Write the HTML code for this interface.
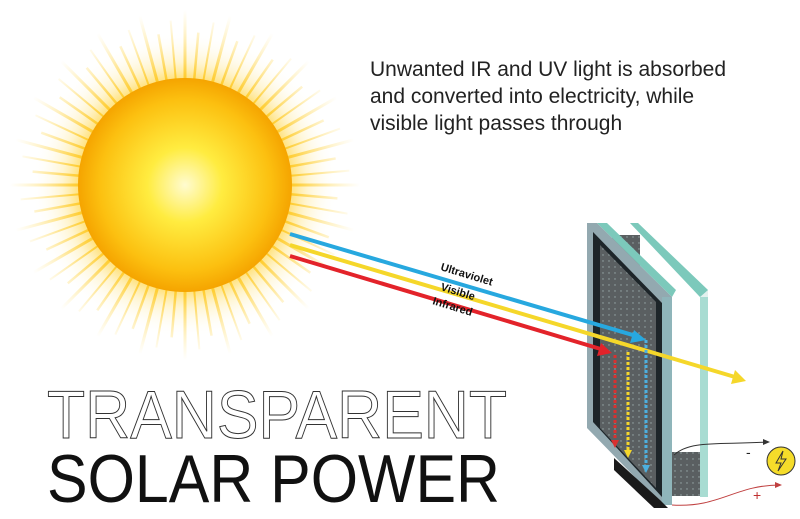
<!DOCTYPE html>
<html><head><meta charset="utf-8"><style>
html,body{margin:0;padding:0;background:#fff;width:800px;height:519px;overflow:hidden}
</style></head><body>
<svg width="800" height="519" viewBox="0 0 800 519" xmlns="http://www.w3.org/2000/svg">
<defs>
<radialGradient id="sun" cx="0.5" cy="0.5" r="0.5">
<stop offset="0" stop-color="#fffbd0"/><stop offset="0.35" stop-color="#ffec40"/><stop offset="0.8" stop-color="#fcc010"/><stop offset="1" stop-color="#f5a400"/>
</radialGradient>
<radialGradient id="glow" cx="0.5" cy="0.5" r="0.5">
<stop offset="0.6" stop-color="#ffd23a" stop-opacity="0.8"/><stop offset="0.72" stop-color="#ffe27a" stop-opacity="0.35"/><stop offset="0.9" stop-color="#fff" stop-opacity="0"/>
</radialGradient>
<linearGradient id="rg" gradientUnits="userSpaceOnUse" x1="290" y1="0" x2="360" y2="0">
<stop offset="0" stop-color="#ffc820" stop-opacity="0.9"/><stop offset="1" stop-color="#ffe070" stop-opacity="0"/>
</linearGradient>
<g id="ray">
<line x1="288" y1="185" x2="362" y2="185" stroke="url(#rg)" stroke-width="3"/>
<line x1="288" y1="185" x2="338" y2="185" stroke="url(#rg)" stroke-width="2.5" transform="rotate(5 185 185)"/>
<line x1="288" y1="185" x2="350" y2="185" stroke="url(#rg)" stroke-width="2" transform="rotate(10 185 185)"/>
</g>
<pattern id="dots" width="6" height="6" patternUnits="userSpaceOnUse"><rect width="6" height="6" fill="#5a5f61"/><circle cx="3" cy="3" r="0.7" fill="#9aa"/></pattern>
</defs>
<circle cx="185" cy="185" r="170" fill="url(#glow)"/>
<g>
<use href="#ray"/><use href="#ray" transform="rotate(15 185 185)"/><use href="#ray" transform="rotate(30 185 185)"/><use href="#ray" transform="rotate(45 185 185)"/>
<use href="#ray" transform="rotate(60 185 185)"/><use href="#ray" transform="rotate(75 185 185)"/><use href="#ray" transform="rotate(90 185 185)"/><use href="#ray" transform="rotate(105 185 185)"/>
<use href="#ray" transform="rotate(120 185 185)"/><use href="#ray" transform="rotate(135 185 185)"/><use href="#ray" transform="rotate(150 185 185)"/><use href="#ray" transform="rotate(165 185 185)"/>
<use href="#ray" transform="rotate(180 185 185)"/><use href="#ray" transform="rotate(195 185 185)"/><use href="#ray" transform="rotate(210 185 185)"/><use href="#ray" transform="rotate(225 185 185)"/>
<use href="#ray" transform="rotate(240 185 185)"/><use href="#ray" transform="rotate(255 185 185)"/><use href="#ray" transform="rotate(270 185 185)"/><use href="#ray" transform="rotate(285 185 185)"/>
<use href="#ray" transform="rotate(300 185 185)"/><use href="#ray" transform="rotate(315 185 185)"/><use href="#ray" transform="rotate(330 185 185)"/><use href="#ray" transform="rotate(345 185 185)"/>
</g>
<circle cx="185" cy="185" r="107" fill="url(#sun)"/>
<text x="370" y="76" font-family="Liberation Sans,sans-serif" font-size="21" fill="#222">Unwanted IR and UV light is absorbed</text>
<text x="370" y="103" font-family="Liberation Sans,sans-serif" font-size="21" fill="#222">and converted into electricity, while</text>
<text x="370" y="130" font-family="Liberation Sans,sans-serif" font-size="21" fill="#222">visible light passes through</text>
<!-- back glass -->
<polygon points="630,223 638,223 708,290 708,497 700,497 700,297" fill="#e2f1ee"/>
<polygon points="630,223 638,223 708,290 700,297" fill="#7cc9bb"/>
<rect x="700" y="297" width="8" height="200" fill="#a8dcd2"/>
<!-- spacer -->
<polygon points="612,235 640,235 640,420 612,420" fill="url(#dots)"/>
<polygon points="672,452 700,452 700,496 672,496" fill="url(#dots)"/>
<!-- front frame -->
<polygon points="587,223 597,223 672,297 672,505 662,505 587,428" fill="#93a9b0"/>
<polygon points="593,232 662,303 662,497 593,422" fill="#1d2529"/>
<polygon points="600,245 656,302 656,488 600,428" fill="url(#dots)"/>
<polygon points="597,223 607,223 676,290 672,297" fill="#7cc9bb"/>
<rect x="662" y="297" width="10" height="208" fill="#8fb5ba"/>
<polygon points="614,458 660,500 668,508 654,508 614,470" fill="#1a1a1a"/>
<!-- rays -->
<g stroke-width="4" fill="none">
<line x1="290" y1="234" x2="636" y2="336" stroke="#27a8df"/>
<line x1="290" y1="245" x2="735" y2="377" stroke="#f5d72a"/>
<line x1="290" y1="256" x2="604" y2="350" stroke="#e3232a"/>
</g>
<polygon points="646,340 630,343 634,330" fill="#27a8df"/>
<polygon points="746,381 731,384 735,370" fill="#f5d72a"/>
<polygon points="612,353 597,356 601,343" fill="#e3232a"/>
<g stroke-width="3" stroke-dasharray="3,2" fill="none">
<line x1="615" y1="355" x2="615" y2="440" stroke="#d83030"/>
<line x1="628" y1="352" x2="628" y2="450" stroke="#f5d72a"/>
<line x1="646" y1="340" x2="646" y2="465" stroke="#4cb0e0"/>
</g>
<polygon points="611,440 619,440 615,448" fill="#d83030"/>
<polygon points="624,450 632,450 628,458" fill="#f5d72a"/>
<polygon points="642,465 650,465 646,473" fill="#4cb0e0"/>
<g font-family="Liberation Sans,sans-serif" font-size="11" font-weight="bold" fill="#111">
<text transform="translate(440,270) rotate(17)">Ultraviolet</text>
<text transform="translate(440,290) rotate(17)">Visible</text>
<text transform="translate(432,304) rotate(17)">Infrared</text>
</g>
<!-- wires -->
<path d="M674,455 C690,440 720,445 768,442" stroke="#333" fill="none" stroke-width="1"/>
<polygon points="770,442 763,439 763,445" fill="#333"/>
<path d="M672,505 C720,508 735,485 780,485" stroke="#c04040" fill="none" stroke-width="1"/>
<polygon points="782,485 775,482 775,488" fill="#c04040"/>
<text x="746" y="457" font-family="Liberation Sans,sans-serif" font-size="14" fill="#222">-</text>
<text x="753" y="500" font-family="Liberation Sans,sans-serif" font-size="14" fill="#c03030">+</text>
<circle cx="781" cy="461" r="14" fill="#f5dc2a" stroke="#333" stroke-width="1"/>
<path d="M783,451 L776,463 L781,463 L778,471 L786,459 L781,459 Z" fill="none" stroke="#333" stroke-width="1"/>
<!-- title -->
<text x="47" y="438" font-family="Liberation Sans,sans-serif" font-size="68" fill="#fff" stroke="#333" stroke-width="1" textLength="460" lengthAdjust="spacingAndGlyphs">TRANSPARENT</text>
<text x="47" y="502" font-family="Liberation Sans,sans-serif" font-size="68" fill="#111" textLength="453" lengthAdjust="spacingAndGlyphs">SOLAR POWER</text>
</svg>
</body></html>
